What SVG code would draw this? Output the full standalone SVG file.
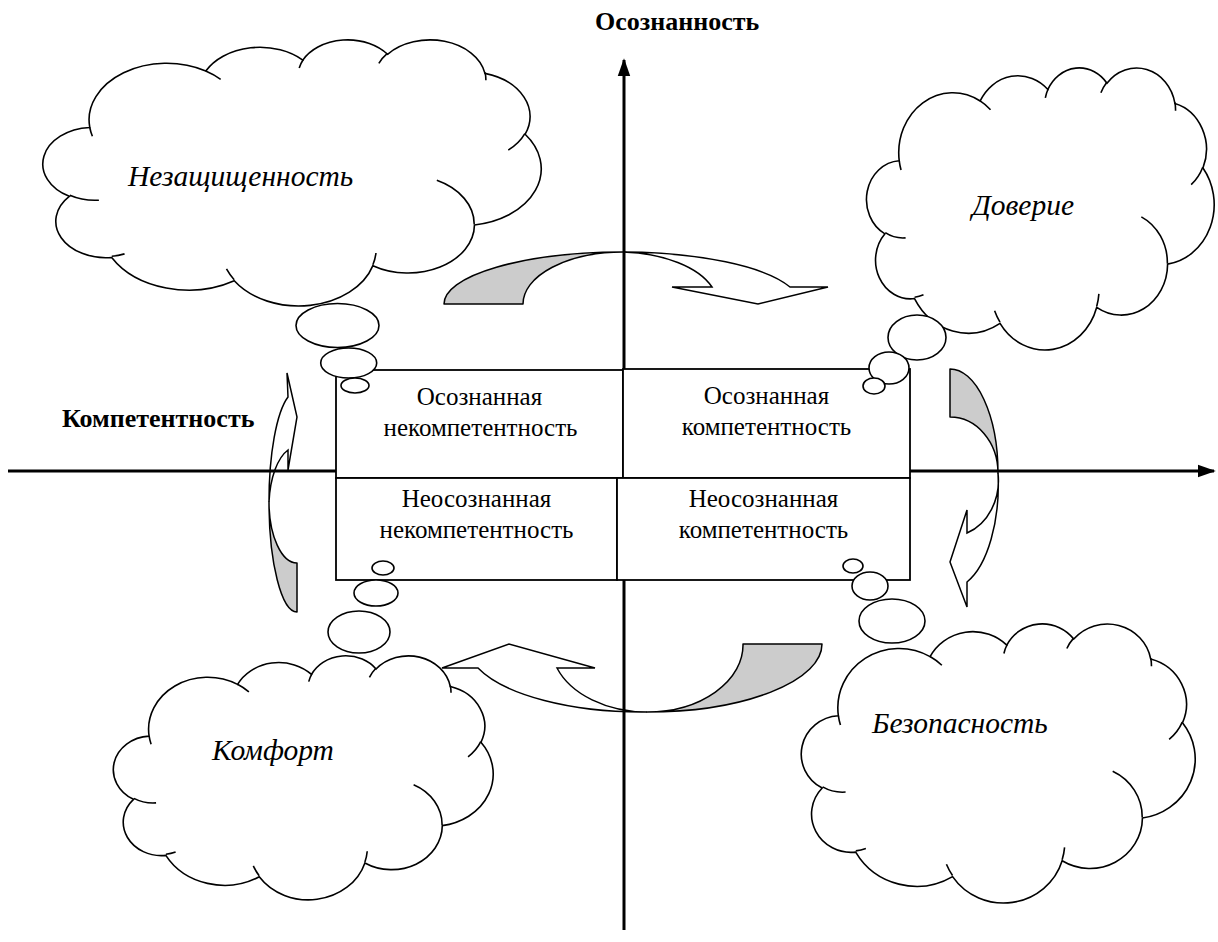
<svg xmlns="http://www.w3.org/2000/svg" xmlns:xlink="http://www.w3.org/1999/xlink" width="1218" height="942" viewBox="0 0 1218 942">
<style>
.cl{fill:#fff;stroke:#000;stroke-width:1.6}
.wp{fill:none;stroke:#000;stroke-width:1.6}
.bub{fill:#fff;stroke:#000;stroke-width:1.6}
.gr{fill:#cccccc;stroke:#000;stroke-width:1.5;stroke-linejoin:round}
.wh{fill:#fff;stroke:#000;stroke-width:1.5;stroke-linejoin:miter}
.axis{stroke:#000;stroke-width:3;fill:none}
.box{fill:#fff;stroke:#000;stroke-width:1.8}
.bt{font-family:"Liberation Serif","Times New Roman",serif;font-size:25px;text-anchor:middle;fill:#000}
.ct{font-family:"Liberation Serif","Times New Roman",serif;font-size:29.5px;font-style:italic;fill:#000}
.hd{font-family:"Liberation Serif","Times New Roman",serif;font-size:26px;font-weight:bold;fill:#000}
</style>
<defs>
<path id="cloud" class="cl" vector-effect="non-scaling-stroke" d="M3900 14370A6753 9190 0 0 1 14005 5202A5333 7267 0 0 1 22458 3434A4365 5945 0 0 1 29836 2484A4857 6595 0 0 1 38321 5578A5333 7273 0 0 1 41822 15462A6775 9220 0 0 1 37406 30203A5785 7867 0 0 1 28559 36813A6752 9215 0 0 1 16485 39268A7720 10543 0 0 1 5809 35476A4360 5918 0 0 1 2116 25557A4345 5945 0 0 1 3900 14370Z"/>
<path id="wisps" class="wp" vector-effect="non-scaling-stroke" d="M4693 26177A4345 5945 0 0 1 2159 25380M6928 34899A4360 5918 0 0 1 5819 35281M16478 39090A6752 9215 0 0 1 15808 37346M28827 34751A6752 9215 0 0 1 28560 36660M34129 22954A5785 7867 0 0 1 37381 30090M41798 15354A5333 7273 0 0 1 40350 18030M38324 5426A4857 6595 0 0 1 38400 6689M29078 3952A4857 6595 0 0 1 29819 2341M22141 4720A4365 5945 0 0 1 22500 3330M14000 5192A6753 9190 0 0 1 15301 6542M4127 15789A6753 9190 0 0 1 3900 14370"/>
<marker id="ah" viewBox="0 0 10 10" refX="9" refY="5" markerWidth="6" markerHeight="6" markerUnits="strokeWidth" orient="auto">
<path d="M0 1.5L10 5L0 8.5Z" fill="#000"/>
</marker>
</defs>

<g id="cloud-nezashchishchennost">
<g transform="translate(45 39) scale(0.011481 0.0061574)"><use xlink:href="#cloud"/><use xlink:href="#wisps"/></g>
<text class="ct" x="128" y="186">Незащищенность</text>
</g>
<g id="cloud-doverie">
<g transform="translate(868 67) scale(0.0080093 0.0065278)"><use xlink:href="#cloud"/><use xlink:href="#wisps"/></g>
<text class="ct" x="972" y="215">Доверие</text>
</g>
<g id="cloud-bezopasnost">
<g transform="translate(803 623) scale(0.0090741 0.0064583)"><use xlink:href="#cloud"/><use xlink:href="#wisps"/></g>
<text class="ct" x="872" y="733">Безопасность</text>
</g>
<g id="cloud-komfort">
<g transform="translate(115 655) scale(0.00875 0.0056481)"><use xlink:href="#cloud"/><use xlink:href="#wisps"/></g>
<text class="ct" x="212" y="760">Комфорт</text>
</g>

<g id="connectors">
<g id="arrow-top">
<path class="gr" d="M444 304A179 52 0 0 1 623 252A100 52 0 0 0 523 304Z"/>
<path class="wh" d="M623 252A179 52 0 0 1 790 287L828 287L758 304L672 287L712 287A100 52 0 0 0 623 252Z"/>
</g>
<g id="arrow-right">
<path class="gr" d="M950 369A48 104 0 0 1 998 473A48 56 0 0 0 950 417Z"/>
<path class="wh" d="M998 473A48 104 0 0 1 967 582L967 607L950 562L967 510L967 533A48 56 0 0 0 998 473Z"/>
</g>
<g id="arrow-bottom">
<path class="gr" d="M822 644A175 68 0 0 1 647 712A96 67 0 0 0 743 644Z"/>
<path class="wh" d="M647 712A175 68 0 0 1 478 668L442 668L509 644L595 668L557 668A96 67 0 0 0 647 712Z"/>
</g>
<g id="arrow-left">
<path class="gr" d="M297 612A28 110 0 0 1 269 502A28 61 0 0 0 297 563Z"/>
<path class="wh" d="M269 502A28 110 0 0 1 288 397L287 373L297 417L288 470L288 450A28 61 0 0 0 269 502Z"/>
</g>
<g id="axes">
<line class="axis" x1="624" y1="930" x2="624" y2="60" marker-end="url(#ah)"/>
<line class="axis" x1="8" y1="471" x2="1214" y2="471" marker-end="url(#ah)"/>
</g>
</g>

<g id="box-oi">
<rect class="box" x="336" y="370" width="287" height="108"/>
<text class="bt" x="479.5" y="405">Осознанная</text>
<text class="bt" x="480.5" y="436">некомпетентность</text>
</g>
<g id="box-ok">
<rect class="box" x="623" y="369" width="287" height="109"/>
<text class="bt" x="766.5" y="404">Осознанная</text>
<text class="bt" x="766.5" y="435">компетентность</text>
</g>
<g id="box-ni">
<rect class="box" x="336" y="478" width="281" height="102"/>
<text class="bt" x="476.5" y="507">Неосознанная</text>
<text class="bt" x="476.5" y="538">некомпетентность</text>
</g>
<g id="box-nk">
<rect class="box" x="617" y="478" width="293" height="102"/>
<text class="bt" x="763.5" y="507">Неосознанная</text>
<text class="bt" x="763.5" y="538">компетентность</text>
</g>

<g id="bubbles-tl">
<ellipse class="bub" cx="337.5" cy="325.5" rx="41.5" ry="22"/>
<ellipse class="bub" cx="348.7" cy="363" rx="28" ry="15"/>
<ellipse class="bub" cx="355" cy="385.5" rx="14" ry="7.5"/>
</g>
<g id="bubbles-tr">
<ellipse class="bub" cx="917" cy="337.5" rx="29" ry="22.5"/>
<ellipse class="bub" cx="889" cy="368" rx="20" ry="16"/>
<ellipse class="bub" cx="874" cy="386" rx="11" ry="8"/>
</g>
<g id="bubbles-bl">
<ellipse class="bub" cx="383" cy="568" rx="11" ry="7"/>
<ellipse class="bub" cx="376" cy="593" rx="22" ry="13"/>
<ellipse class="bub" cx="359" cy="632" rx="31" ry="21"/>
</g>
<g id="bubbles-br">
<ellipse class="bub" cx="853" cy="566" rx="10" ry="7"/>
<ellipse class="bub" cx="870" cy="586" rx="18" ry="14"/>
<ellipse class="bub" cx="892" cy="621" rx="33" ry="22"/>
</g>

<text id="label-osoznannost" class="hd" x="595" y="30">Осознанность</text>
<text id="label-kompetentnost" class="hd" x="62" y="427">Компетентность</text>
</svg>
